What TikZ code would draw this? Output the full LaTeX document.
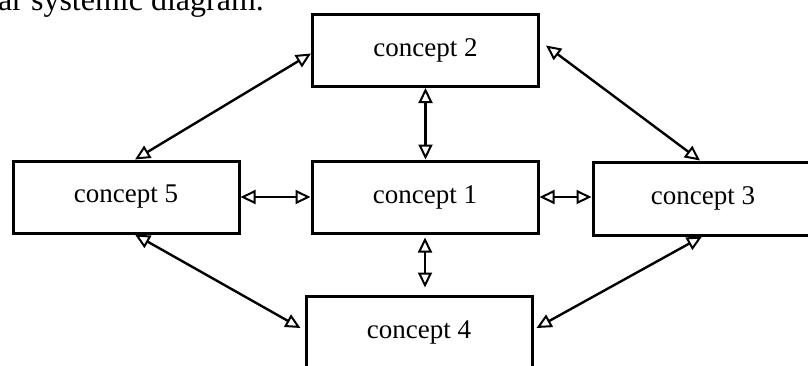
\documentclass[tikz,border=0pt]{standalone}
\usepackage{fontspec}
\setmainfont{Liberation Serif}
\usetikzlibrary{arrows.meta,calc}
\tikzset{
  concept/.style={draw=black, line width=3pt, rectangle, fill=white,
    minimum width=226pt, minimum height=72pt, inner sep=0pt,
    font=\fontsize{27}{30}\selectfont},
  tip/.style={Triangle[open,length=15pt,width=14pt,line width=2pt]},
  link/.style={line width=2.4pt, {Triangle[open,length=15pt,width=14pt,line width=2pt]}-{Triangle[open,length=15pt,width=14pt,line width=2pt]}},
  caption/.style={anchor=base west, inner sep=0pt, font=\fontsize{32}{36}\selectfont}
}
\begin{document}
\begin{tikzpicture}[x=1pt,y=-1pt]
\useasboundingbox (0,0) rectangle (808,365);
\clip (0,0) rectangle (808,365);
\fill[white] (0,0) rectangle (808,365);
\node[caption] (cap) at (-2,10) {ar systemic diagram.};
\node[concept] (c2) at (425.5,50.5) {concept 2};
\node[concept] (c1) at (425,197) {concept 1};
\node[concept] (c5) at (126,197) {concept 5};
\node[concept, minimum width=250pt, minimum height=73pt] (c3) at (718,198.5) {\hspace*{-30pt}concept 3};
\node[concept, minimum height=73pt] (c4) at (419,332.5) {concept 4};
% connectors
\draw[link] ([yshift=-3pt]c2.west) -- ([xshift=9pt]c5.north);
\draw[link] ([xshift=6pt,yshift=5pt]c2.east) -- ([xshift=-18pt]c3.north);
\draw[link] (c2.south) -- (c2.south |- c1.north);
\draw[link] (c5.east) -- (c1.west);
\draw[link] (c1.east) -- (c1.east -| c3.west);
\draw[link, shorten <=3pt, shorten >=7pt] (c1.south) -- (c1.south |- c4.north);
\draw[link] ([xshift=9pt]c5.south) -- ([xshift=-4pt,yshift=4.5pt]c4.west);
\draw[link] ([xshift=-16pt]c3.south) -- ([xshift=3pt,yshift=4.5pt]c4.east);
\end{tikzpicture}
\end{document}
